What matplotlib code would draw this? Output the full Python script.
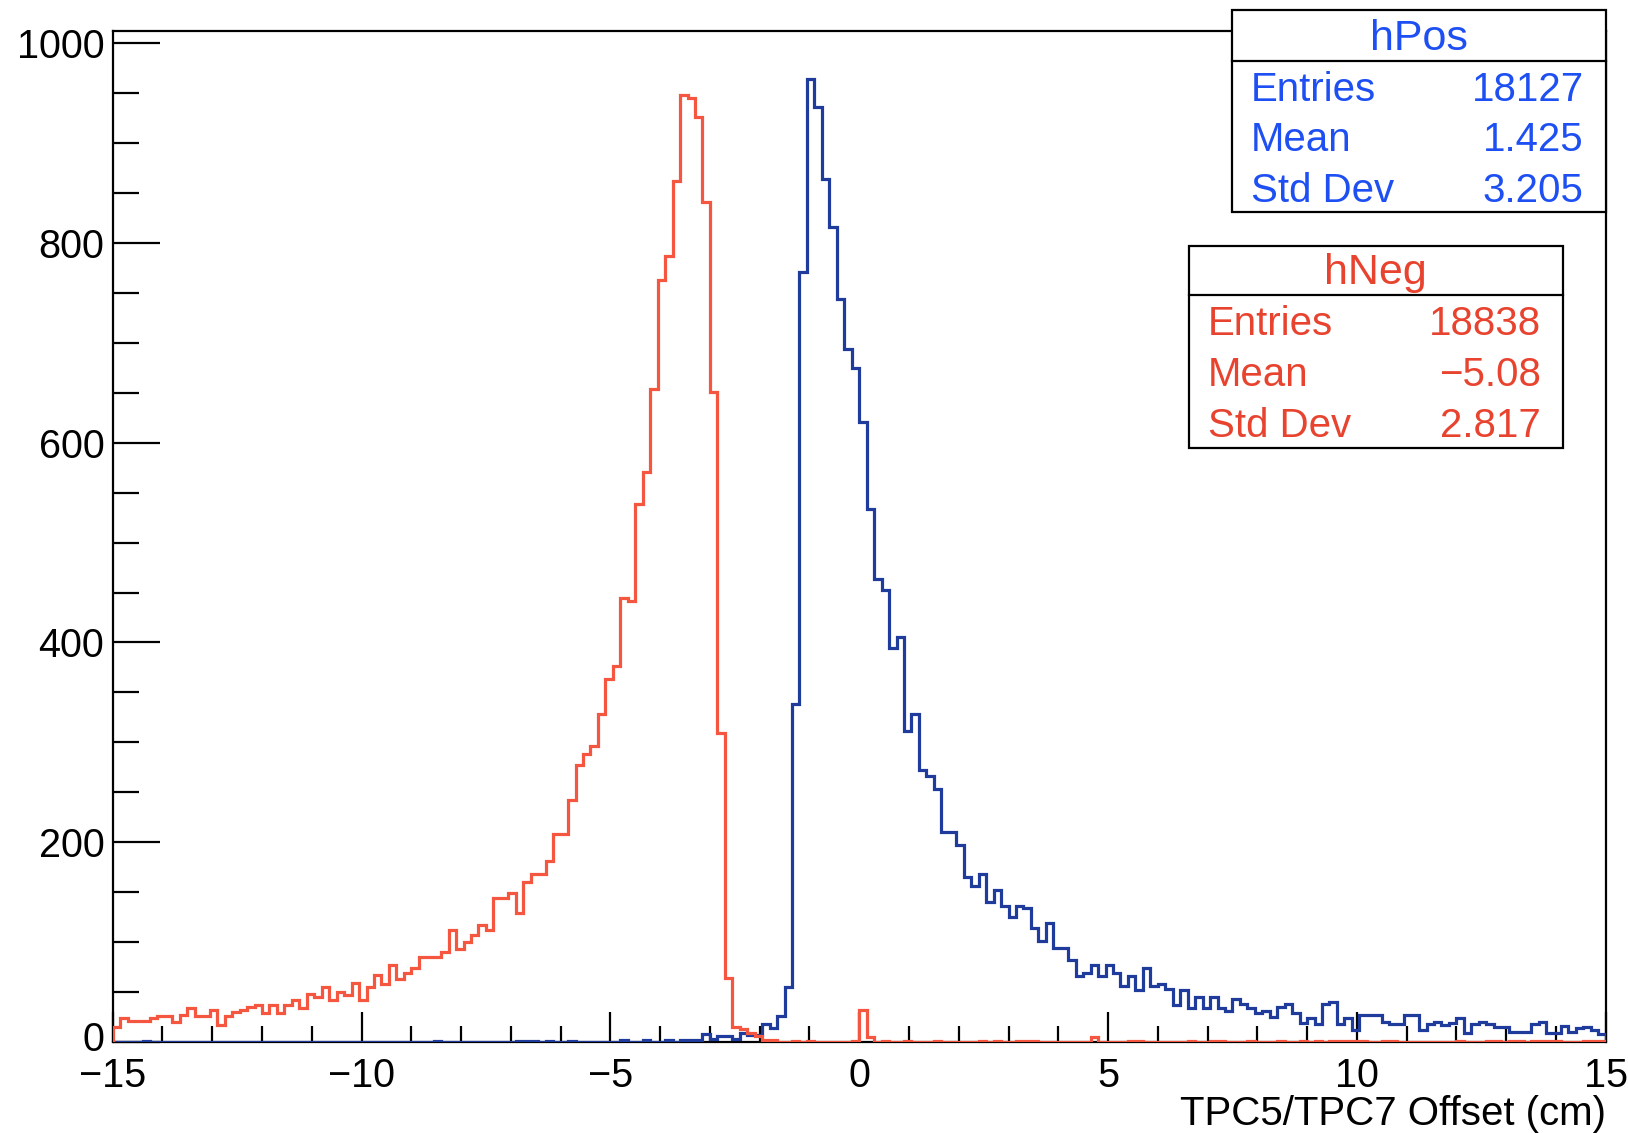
import numpy as np
import matplotlib
matplotlib.use("Agg")
import matplotlib.pyplot as plt
from matplotlib.ticker import MultipleLocator
from matplotlib.patches import Rectangle
from matplotlib.transforms import ScaledTranslation

# ---------------- data ----------------
x_min, x_max, n_bins = -15.0, 15.0, 200

hpos_counts = [
    0, 0, 0, 0, 1, 0, 0, 0, 0, 0,
    0, 0, 0, 0, 0, 0, 0, 0, 0, 0,
    0, 0, 0, 0, 0, 0, 0, 0, 0, 0,
    0, 0, 0, 0, 0, 0, 0, 0, 0, 0,
    0, 0, 0, 1, 0, 0, 0, 0, 0, 0,
    0, 0, 0, 0, 1, 1, 1, 0, 1, 0,
    0, 1, 0, 0, 0, 0, 0, 0, 2, 0,
    0, 2, 0, 0, 2, 0, 2, 2, 2, 8,
    3, 6, 6, 3, 9, 7, 7, 18, 14, 26,
    55, 338, 771, 964, 936, 864, 816, 744, 694, 675,
    621, 534, 464, 453, 394, 405, 311, 328, 272, 266,
    253, 210, 210, 197, 165, 156, 168, 140, 152, 136,
    125, 136, 134, 114, 101, 119, 94, 94, 82, 66,
    69, 77, 66, 77, 69, 56, 66, 52, 74, 56,
    58, 53, 37, 52, 34, 45, 34, 45, 34, 31,
    43, 38, 34, 29, 31, 25, 35, 38, 29, 19,
    24, 18, 38, 40, 18, 24, 12, 27, 27, 27,
    20, 18, 18, 27, 27, 12, 18, 20, 17, 19,
    24, 9, 18, 20, 18, 15, 15, 10, 10, 10,
    18, 20, 9, 9, 16, 10, 14, 15, 12, 8,
]

hneg_counts = [
    15, 24, 21, 21, 21, 24, 26, 26, 20, 27,
    34, 26, 26, 32, 17, 26, 30, 32, 35, 37,
    29, 37, 29, 37, 42, 34, 48, 45, 55, 42,
    50, 47, 59, 42, 55, 67, 58, 77, 63, 69,
    74, 85, 85, 85, 90, 112, 93, 100, 107, 117,
    112, 144, 144, 149, 129, 160, 168, 168, 181, 208,
    208, 242, 277, 288, 296, 328, 363, 376, 445, 442,
    539, 571, 654, 763, 787, 862, 948, 945, 926, 841,
    651, 309, 64, 15, 13, 9, 6, 2, 2, 0,
    0, 1, 0, 1, 0, 0, 0, 0, 0, 1,
    32, 5, 0, 1, 0, 0, 1, 0, 0, 0,
    1, 0, 0, 0, 0, 0, 1, 0, 1, 0,
    0, 1, 1, 1, 0, 0, 0, 0, 0, 0,
    0, 5, 0, 0, 0, 0, 1, 1, 0, 0,
    0, 0, 0, 0, 1, 0, 0, 1, 1, 0,
    0, 0, 1, 0, 0, 0, 1, 0, 0, 1,
    0, 1, 0, 1, 1, 1, 1, 1, 0, 0,
    1, 1, 0, 0, 0, 0, 0, 0, 0, 0,
    1, 0, 0, 0, 1, 1, 0, 1, 1, 0,
    1, 1, 1, 1, 0, 0, 0, 1, 1, 1,
]

hpos_title = "hPos"
hneg_title = "hNeg"
stat_names = ["Entries", "Mean", "Std Dev"]
hpos_stats = ["18127", "1.425", "3.205"]
hneg_stats = ["18838", "\u22125.08", "2.817"]
x_label = "TPC5/TPC7 Offset (cm)"
x_major_ticks = [-15, -10, -5, 0, 5, 10, 15]
y_major_ticks = [0, 200, 400, 600, 800, 1000]

# ---------------- style ----------------
line_blue = "#1f3c9c"
line_red = "#f4563f"
text_blue = "#1d4ff2"
text_red = "#e8432f"

plt.rcParams["font.family"] = ["Liberation Sans", "DejaVu Sans"]

W, H = 1628, 1133
fig = plt.figure(figsize=(W / 100, H / 100), dpi=100)
L, R, B, T = 112.7, 1605.7, 1042.0, 31.0
ax = fig.add_axes([L / W, 1 - B / H, (R - L) / W, (B - T) / H])

edges = np.linspace(x_min, x_max, n_bins + 1)
ax.stairs(hpos_counts, edges, color=line_blue, lw=2.3, zorder=3)
ax.stairs(hneg_counts, edges, color=line_red, lw=2.3, zorder=4)

ax.set_xlim(x_min, x_max)
ax.set_ylim(0, 1.05 * max(max(hpos_counts), max(hneg_counts)))

ax.set_xticks(x_major_ticks)
ax.set_yticks(y_major_ticks)
ax.xaxis.set_minor_locator(MultipleLocator(1))
ax.yaxis.set_minor_locator(MultipleLocator(50))

ax.tick_params(axis="both", which="both", direction="in", top=False, right=False,
               width=1.6, color="black")
ax.tick_params(axis="y", which="major", length=34, labelsize=28.5, pad=6)
ax.tick_params(axis="y", which="minor", length=18.5)
ax.tick_params(axis="x", which="major", length=21.6, labelsize=28.5, pad=11)
ax.tick_params(axis="x", which="minor", length=11.5)
for s in ax.spines.values():
    s.set_linewidth(1.6)
    s.set_color("black")

ax.set_xlabel(x_label, fontsize=29, loc="right", labelpad=0)

# nudge the lowest y tick label up a little so it does not collide with the x labels
fig.canvas.draw()
for lab in ax.get_yticklabels():
    if lab.get_text() == "0":
        lab.set_transform(lab.get_transform() + ScaledTranslation(0, 4 / 72, fig.dpi_scale_trans))

# ---------------- stats boxes (overlay in pixel coordinates) ----------------
ov = fig.add_axes([0, 0, 1, 1], zorder=10)
ov.set_xlim(0, W)
ov.set_ylim(H, 0)
ov.axis("off")
ov.patch.set_alpha(0)


def stats_box(x0, y0, w, h, title_h, title, values, color):
    ov.add_patch(Rectangle((x0, y0), w, h, facecolor="white", edgecolor="black", lw=1.6))
    ov.plot([x0, x0 + w], [y0 + title_h, y0 + title_h], color="black", lw=1.6)
    ov.text(x0 + w / 2, y0 + title_h / 2 + 14, title, color=color, fontsize=31,
            ha="center", va="baseline")
    row_h = (h - title_h) / len(values)
    for k, (name, val) in enumerate(zip(stat_names, values)):
        yb = y0 + title_h + row_h * (k + 0.5) + 14.5
        ov.text(x0 + 19, yb, name, color=color, fontsize=29, ha="left", va="baseline")
        ov.text(x0 + w - 22, yb, val, color=color, fontsize=29, ha="right", va="baseline")


stats_box(1231.7, 10.0, 374.0, 202.3, 51.0, hpos_title, hpos_stats, text_blue)
stats_box(1189.0, 245.7, 373.7, 202.0, 49.3, hneg_title, hneg_stats, text_red)

fig.savefig("out.png", dpi=100)
